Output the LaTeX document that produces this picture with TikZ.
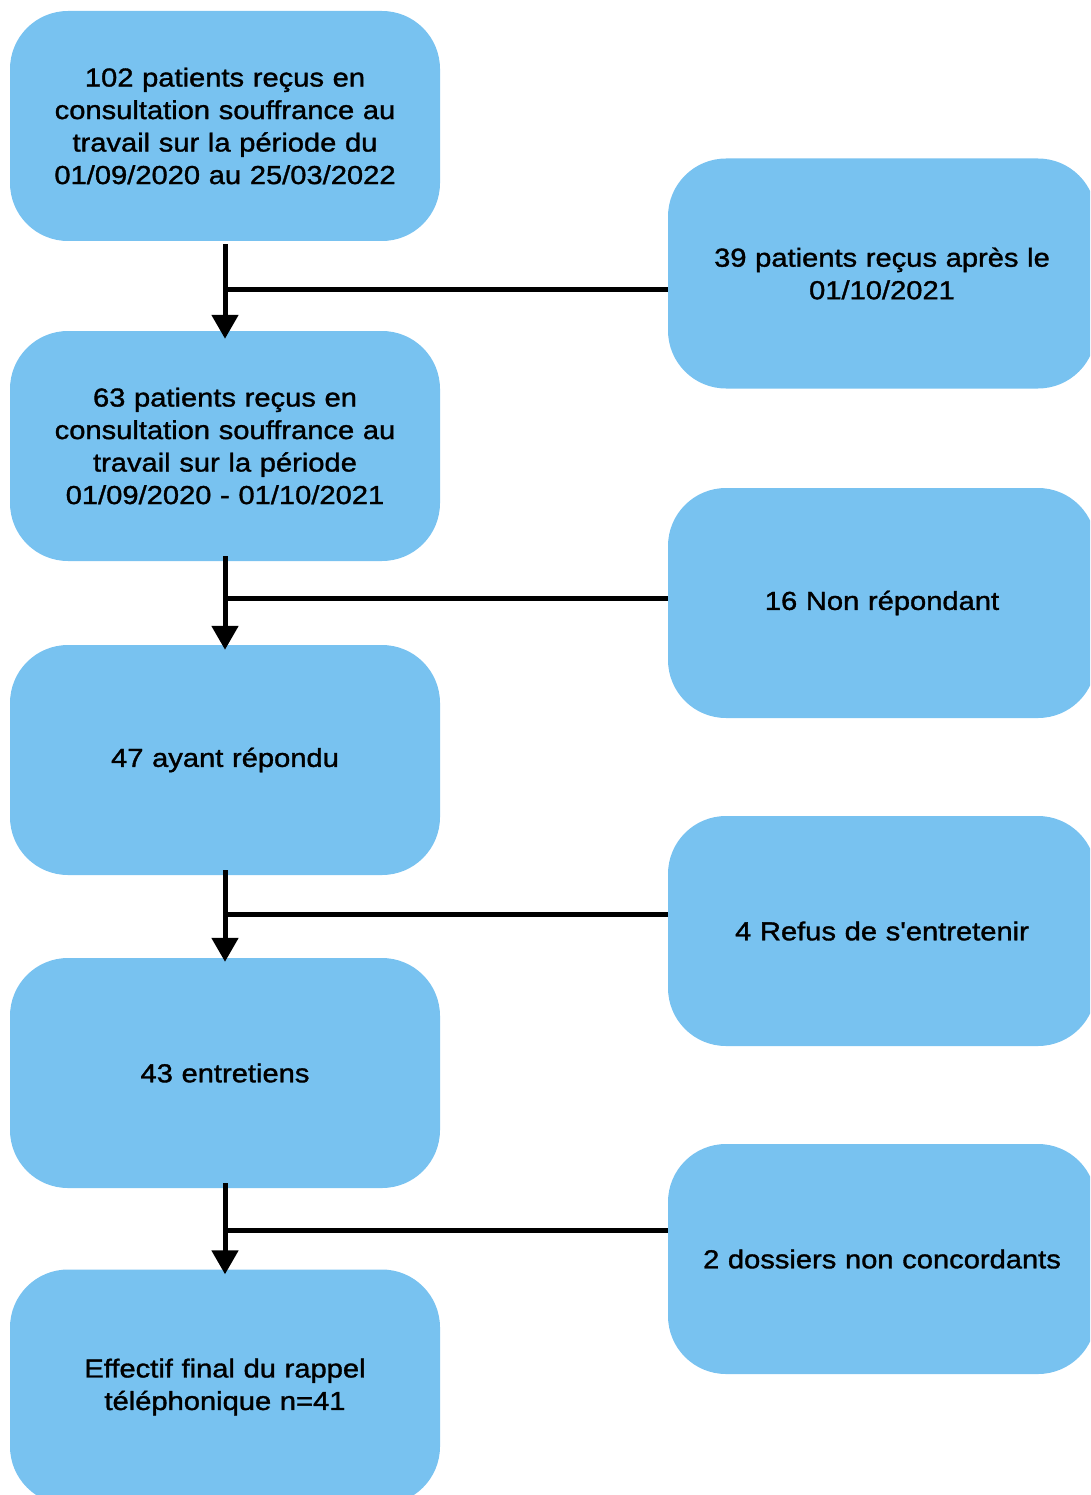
\documentclass[tikz,border=0pt]{standalone}
\usepackage{fontspec}
\newfontfamily\boxfont[FakeStretch=1.12,FakeBold=1.3]{Liberation Sans}
\usetikzlibrary{arrows.meta}
\definecolor{boxblue}{RGB}{120,194,240}
\begin{document}
\begin{tikzpicture}[x=1pt,y=-1pt,
  box/.style={rectangle, rounded corners=58pt, fill=boxblue, draw=none,
    minimum width=430pt, minimum height=230pt, inner sep=0pt,
    text width=420pt, align=center, font=\boxfont\fontsize{26}{32.5}\selectfont},
  rbox/.style={box, minimum width=428pt},
  link/.style={line width=5pt, draw=black},
  arr/.style={link, -{Triangle[width=26pt,length=24pt]}}]
\useasboundingbox (0,0) rectangle (1090,1495);
\clip (0,0) rectangle (1090,1495);
\node[box] (L1) at (225,126) {102 patients reçus en\\consultation souffrance au\\travail sur la période du\\01/09/2020 au 25/03/2022};
\node[box] (L2) at (225,446) {63 patients reçus en\\consultation souffrance au\\travail sur la période\\01/09/2020 - 01/10/2021};
\node[box] (L3) at (225,760) {47 ayant répondu};
\node[box] (L4) at (225,1073) {43 entretiens};
\node[box, minimum height=235pt] (L5) at (225,1387) {Effectif final du rappel\\téléphonique n=41};
\node[rbox] (R1) at (882,273.5) {39 patients reçus après le\\01/10/2021};
\node[rbox] (R2) at (882,603) {16 Non répondant};
\node[rbox] (R3) at (882,931) {4 Refus de s'entretenir};
\node[rbox] (R4) at (882,1259) {2 dossiers non concordants};
\coordinate (j1) at (225,290);
\coordinate (j2) at (225,598);
\coordinate (j3) at (225,914);
\coordinate (j4) at (225,1230);
\draw[arr] ([yshift=-3pt]L1.south) -- ([yshift=-8pt]L2.north);
\draw[arr] ([yshift=5pt]L2.south) -- ([yshift=-5pt]L3.north);
\draw[arr] ([yshift=5pt]L3.south) -- ([yshift=-4pt]L4.north);
\draw[arr] ([yshift=5pt]L4.south) -- ([yshift=-5pt]L5.north);
\draw[link] (j1) -- (j1 -| R1.west);
\draw[link] (j2) -- (j2 -| R2.west);
\draw[link] (j3) -- (j3 -| R3.west);
\draw[link] (j4) -- (j4 -| R4.west);
\end{tikzpicture}
\end{document}
